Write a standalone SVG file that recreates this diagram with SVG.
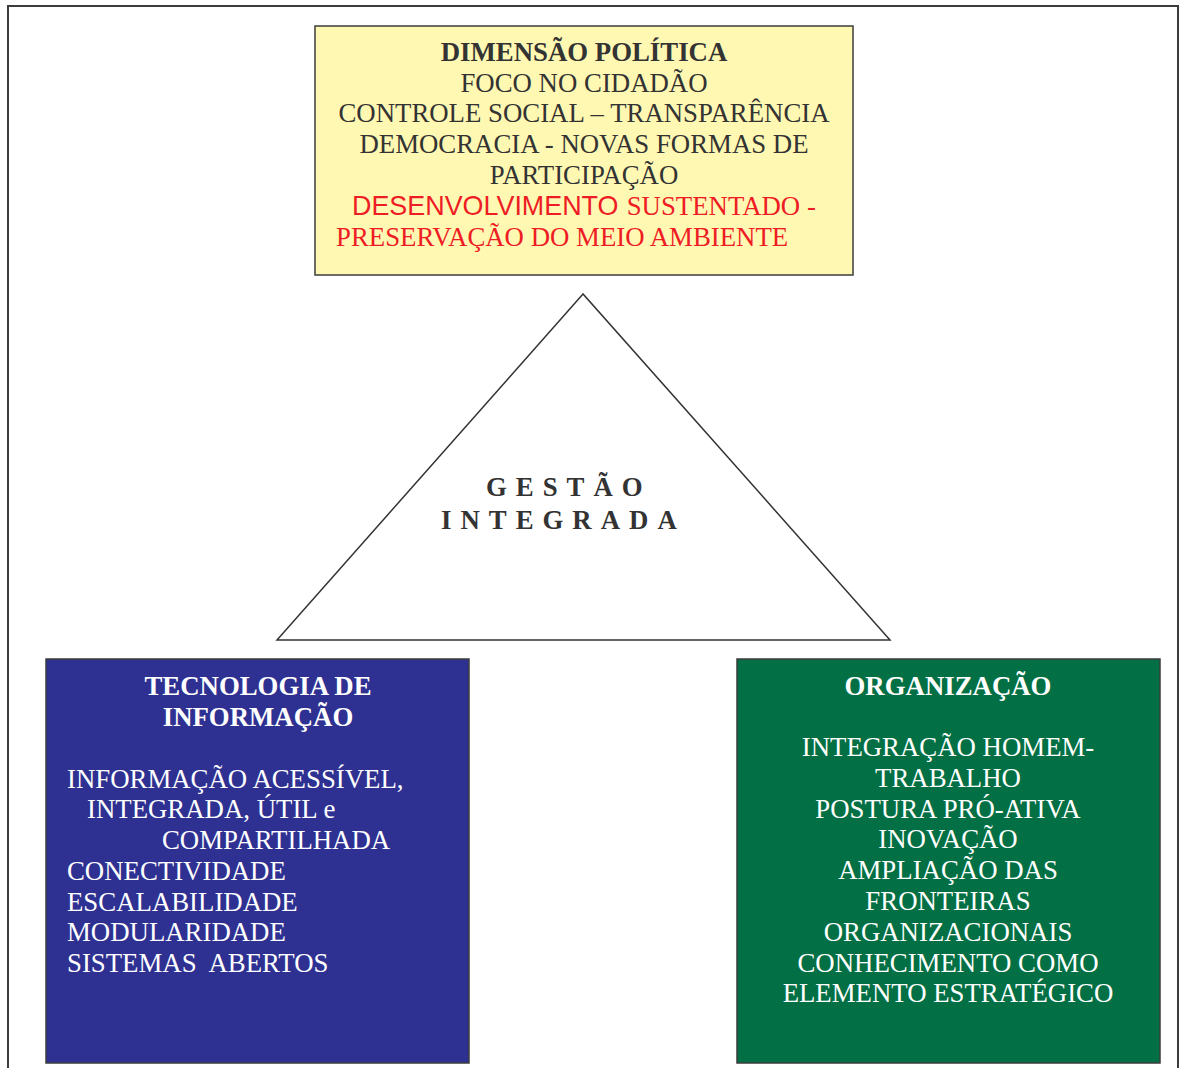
<svg xmlns="http://www.w3.org/2000/svg" width="1180" height="1068" viewBox="0 0 1180 1068">
  <style>
    .frame { fill: none; stroke: #3c3c3c; stroke-width: 2; }
    .box { stroke: #3c3c3c; stroke-width: 1.5; }
    .serif { font-family: "Liberation Serif", "Times New Roman", serif; font-size: 26.8px; }
    .sans { font-family: "Liberation Sans", Arial, sans-serif; font-size: 26.9px; }
    .dark { fill: #333333; }
    .red { fill: #ee1c24; }
    .white { fill: #ffffff; }
    .bold { font-weight: bold; }
    .mid { text-anchor: middle; }
  </style>

  <rect x="0" y="0" width="1180" height="1068" fill="#ffffff"/>
  <!-- page frame -->
  <rect class="frame" x="8" y="6" width="1170" height="1080"/>

  <g id="dimensao-politica">
    <rect class="box" x="315" y="26" width="538" height="249" fill="#fff8b2"/>
    <text class="serif dark bold mid" x="584" y="61">DIMENSÃO POLÍTICA</text>
    <text class="serif dark mid" x="584" y="92">FOCO NO CIDADÃO</text>
    <text class="serif dark mid" x="584" y="122">CONTROLE SOCIAL – TRANSPARÊNCIA</text>
    <text class="serif dark mid" x="584" y="153">DEMOCRACIA - NOVAS FORMAS DE</text>
    <text class="serif dark mid" x="584" y="184">PARTICIPAÇÃO</text>
    <text class="sans red" x="352" y="215">DESENVOLVIMENTO</text>
    <text class="serif red" x="620" y="215" xml:space="preserve"> SUSTENTADO -</text>
    <text class="serif red" x="336" y="246">PRESERVAÇÃO DO MEIO AMBIENTE</text>
  </g>

  <g id="gestao-integrada">
    <polygon points="583,294 277,640 890,640" fill="#ffffff" stroke="#333333" stroke-width="1.5" stroke-linejoin="miter"/>
    <text class="serif dark bold" x="486" y="496" letter-spacing="9">GESTÃO</text>
    <text class="serif dark bold" x="441" y="529" letter-spacing="9">INTEGRADA</text>
  </g>

  <g id="tecnologia-informacao">
    <rect class="box" x="46" y="659" width="423" height="404" fill="#2e3192"/>
    <text class="serif white bold mid" x="258" y="695">TECNOLOGIA DE</text>
    <text class="serif white bold mid" x="258" y="726">INFORMAÇÃO</text>
    <text class="serif white" x="67" y="788">INFORMAÇÃO ACESSÍVEL,</text>
    <text class="serif white" x="87" y="818">INTEGRADA, ÚTIL e</text>
    <text class="serif white" x="162" y="849">COMPARTILHADA</text>
    <text class="serif white" x="67" y="880">CONECTIVIDADE</text>
    <text class="serif white" x="67" y="911">ESCALABILIDADE</text>
    <text class="serif white" x="67" y="941">MODULARIDADE</text>
    <text class="serif white" x="67" y="972" xml:space="preserve">SISTEMAS  ABERTOS</text>
  </g>

  <g id="organizacao">
    <rect class="box" x="737" y="659" width="423" height="404" fill="#026f44"/>
    <text class="serif white bold mid" x="948" y="695">ORGANIZAÇÃO</text>
    <text class="serif white mid" x="948" y="756">INTEGRAÇÃO HOMEM-</text>
    <text class="serif white mid" x="948" y="787">TRABALHO</text>
    <text class="serif white mid" x="948" y="818">POSTURA PRÓ-ATIVA</text>
    <text class="serif white mid" x="948" y="848">INOVAÇÃO</text>
    <text class="serif white mid" x="948" y="879">AMPLIAÇÃO DAS</text>
    <text class="serif white mid" x="948" y="910">FRONTEIRAS</text>
    <text class="serif white mid" x="948" y="941">ORGANIZACIONAIS</text>
    <text class="serif white mid" x="948" y="972">CONHECIMENTO COMO</text>
    <text class="serif white mid" x="948" y="1002">ELEMENTO ESTRATÉGICO</text>
  </g>

  <g id="connectors"></g>
</svg>
